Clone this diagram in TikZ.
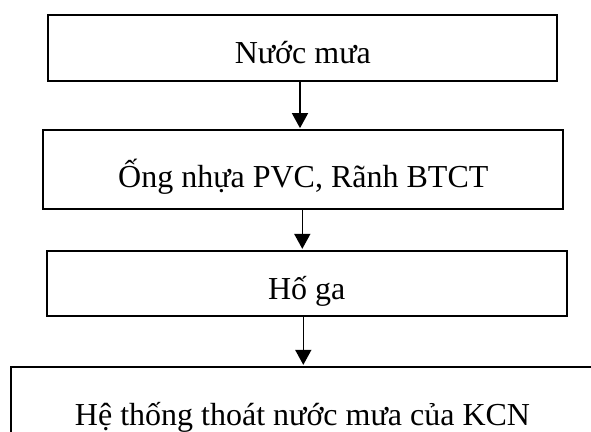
\documentclass[tikz,border=0pt]{standalone}
\usepackage{fontspec}
\setmainfont{Liberation Serif}
\usetikzlibrary{arrows.meta}
\begin{document}
\begin{tikzpicture}[x=1pt,y=-1pt,
  flowbox/.style={draw=black, line width=1.9pt, rectangle, inner sep=0pt,
    font=\fontsize{32}{36}\selectfont, text depth=0pt, anchor=center},
  flowarrow/.style={draw=black, line width=1.6pt,
    -{Triangle[width=16pt,length=15pt]}, shorten >=0.9pt}]
  \useasboundingbox (0,0) rectangle (591,431);
  \clip (0,0) rectangle (591,431);

  % process steps, top to bottom
  \node[flowbox, minimum width=509pt, minimum height=66.3pt, text height=30.9pt]
    (rain) at (302.8,47.85) {Nước mưa};
  \node[flowbox, minimum width=520pt, minimum height=79.3pt, text height=35.3pt]
    (pipe) at (303.3,169.65) {Ống nhựa PVC, Rãnh BTCT};
  \node[flowbox, minimum width=520pt, minimum height=65.3pt, text height=31.9pt]
    (pit) at (306.7,283.35) {Hố ga};
  \node[flowbox, minimum width=582.4pt, minimum height=93.3pt, text height=23.3pt]
    (drain) at (302.5,413.35) {Hệ thống thoát nước mưa của KCN};

  % connector columns
  \coordinate (x1) at (300,0);
  \coordinate (x2) at (302.3,0);
  \coordinate (x3) at (303.3,0);

  \draw[flowarrow] (x1 |- rain.south) -- (x1 |- pipe.north);
  \draw[flowarrow] (x2 |- pipe.south) -- (x2 |- pit.north);
  \draw[flowarrow] (x3 |- pit.south) -- (x3 |- drain.north);
\end{tikzpicture}
\end{document}
